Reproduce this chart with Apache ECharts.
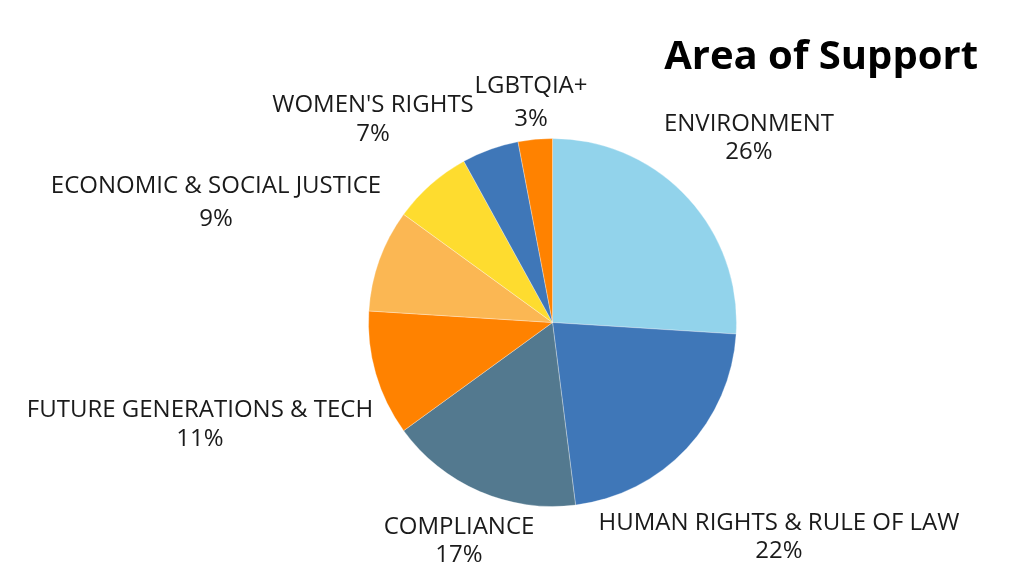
<!DOCTYPE html>
<html>
<head>
<meta charset="utf-8">
<script src="https://cdn.jsdelivr.net/npm/echarts@6/dist/echarts.min.js"></script>
<style>
  html, body { margin: 0; padding: 0; background: #fff; }
  #chart { width: 1024px; height: 576px; }
</style>
</head>
<body>
<div id="chart"></div>
<script>
// slices, clockwise from 12 o'clock
const areas = ['ENVIRONMENT', 'HUMAN RIGHTS & RULE OF LAW', 'COMPLIANCE', 'FUTURE GENERATIONS & TECH',
  'ECONOMIC & SOCIAL JUSTICE', "WOMEN'S RIGHTS", 'OTHER', 'LGBTQIA+'];
const shares = [26, 22, 17, 11, 9, 7, 5, 3];
const showLabel = [true, true, true, true, true, true, false, true];
const colors = ['#92d3eb', '#3f77b8', '#53798f', '#ff8200', '#fbb753', '#fedc2f', '#3f77b8', '#ff8200'];

// where each label sits (centre of the two-line block) and its line spacing
const labelPos = [[749, 138], [779, 537], [459, 541], [200, 425], [216, 203], [373, 120], [0, 0], [531, 103]];
const labelLineH = [28, 28, 28, 29, 33, 29, 28, 33];

const chart = echarts.init(document.getElementById('chart'));

let data = areas.map(function (name, i) {
  return {
    name: name,
    value: shares[i],
    itemStyle: { color: colors[i] },
    label: { show: showLabel[i], lineHeight: labelLineH[i] }
  };
});

let option = {
  animation: false,
  title: {
    text: 'Area of Support',
    right: 41,
    top: 33,
    textStyle: { fontFamily: 'Open Sans', fontWeight: 'bold', fontSize: 40, color: '#000' }
  },
  series: [
    {
      type: 'pie',
      center: [552.5, 322.5],
      radius: 184,
      startAngle: 90,
      clockwise: true,
      data: data,
      itemStyle: { borderColor: 'rgba(255,255,255,0.6)', borderWidth: 0.5 },
      label: {
        formatter: '{b}\n{c}%',
        fontFamily: 'Open Sans',
        fontSize: 24,
        color: '#1a1a1a',
        align: 'center',
        width: 400,
        overflow: 'none'
      },
      labelLine: { show: false },
      labelLayout: function (params) {
        let p = labelPos[params.dataIndex];
        return { x: p[0], y: p[1], align: 'center', verticalAlign: 'middle' };
      },
      emphasis: { disabled: true }
    }
  ]
};
chart.setOption(option);
</script>
</body>
</html>
